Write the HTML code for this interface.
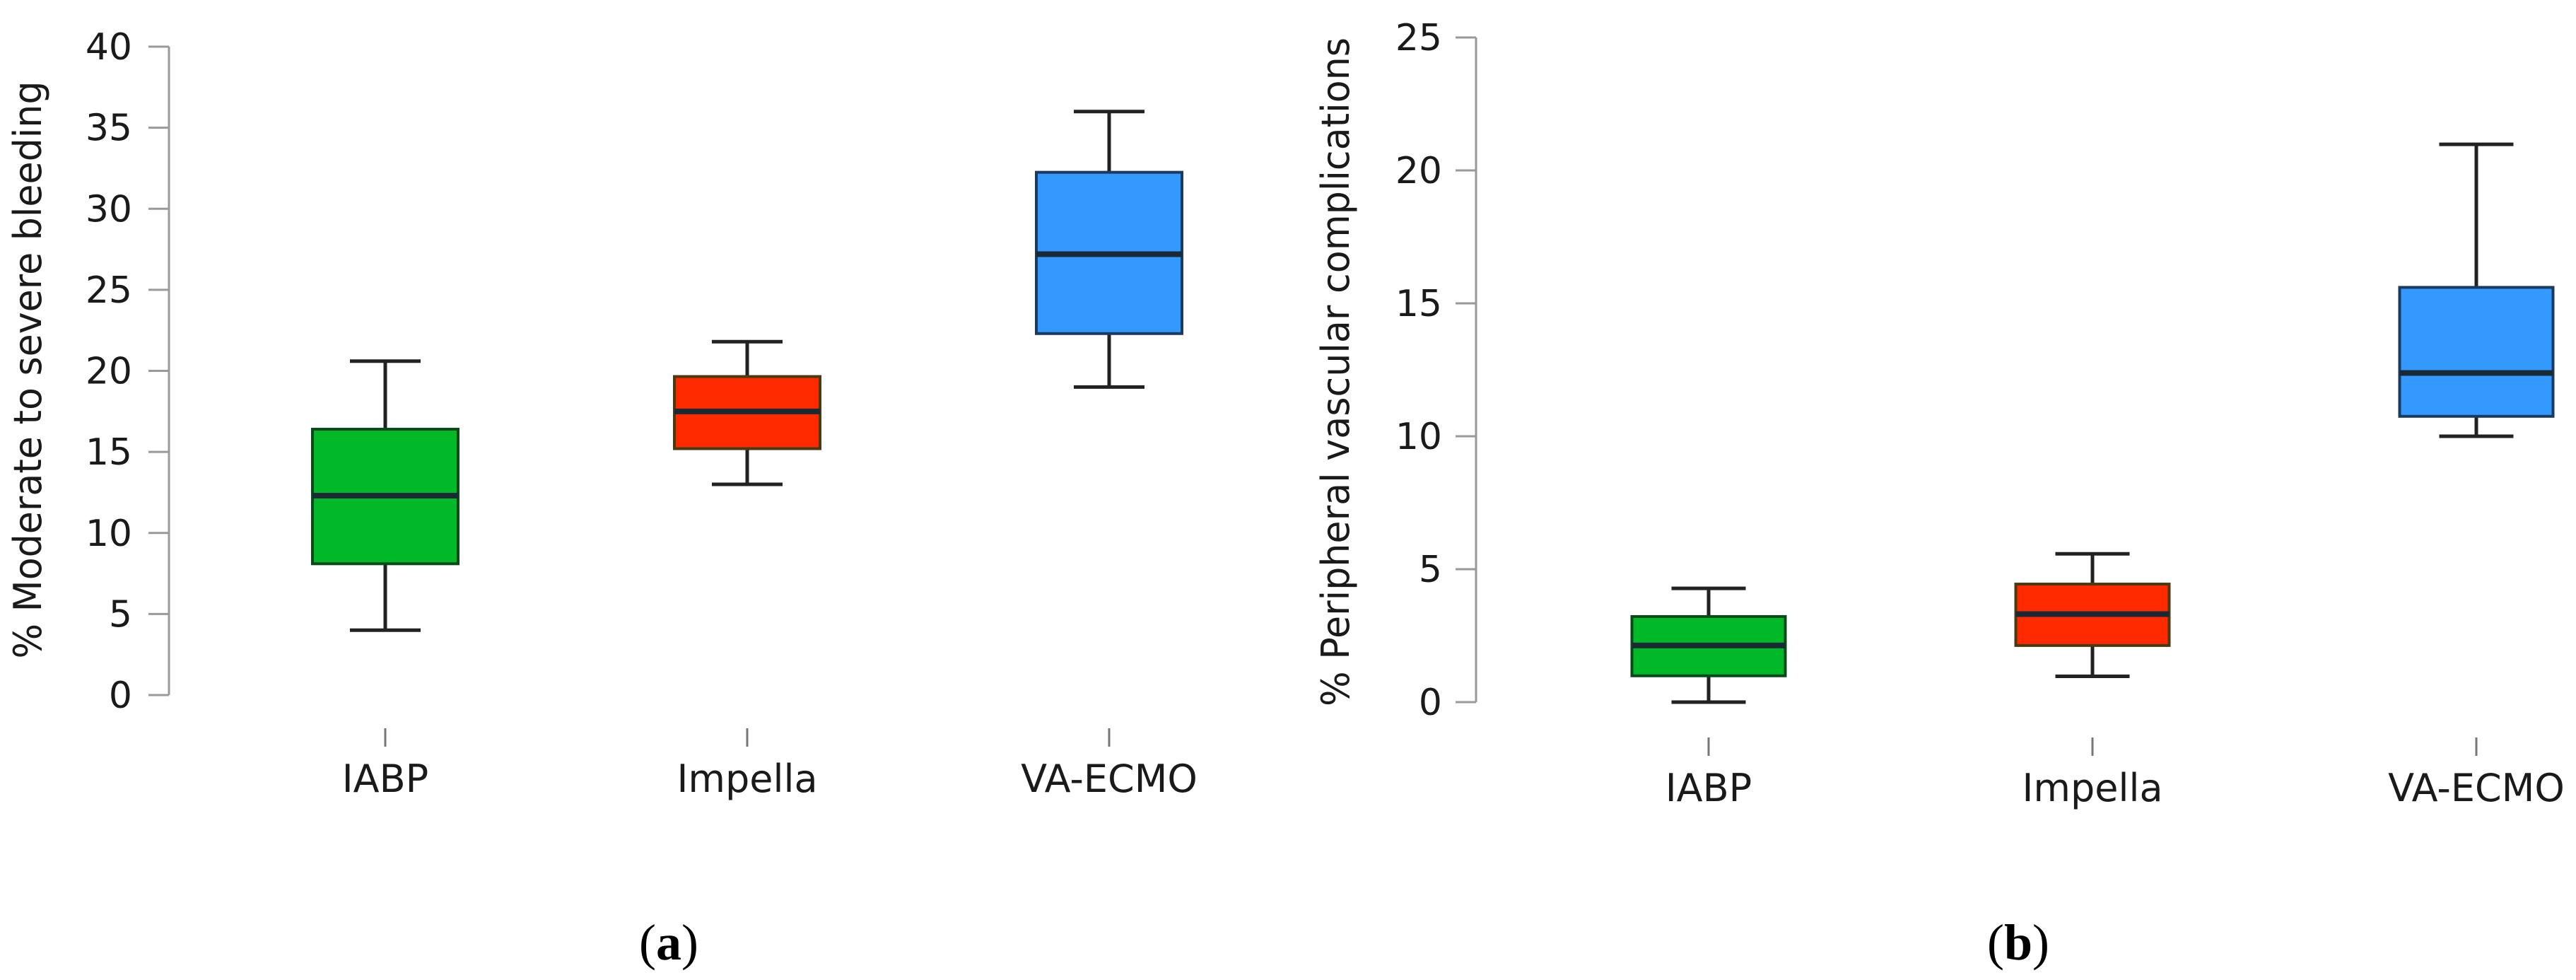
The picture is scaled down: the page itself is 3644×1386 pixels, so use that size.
<!DOCTYPE html>
<html><head><meta charset="utf-8"><style>
html,body{margin:0;padding:0;background:#fff;width:3644px;height:1386px;overflow:hidden}
svg{display:block}
text{font-family:"DejaVu Sans","Liberation Sans",sans-serif;fill:#1a1a1a}
</style></head><body>
<svg id="fig" width="3644" height="1386" viewBox="0 0 3644 1386"></svg>
<script>
const categories = ["IABP","Impella","VA-ECMO"];
// panel a: min, q1, median, q3, max
const aMin = [4.0, 13.0, 19.0];
const aQ1 = [8.1, 15.2, 22.3];
const aMed = [12.3, 17.5, 27.2];
const aQ3 = [16.4, 19.65, 32.25];
const aMax = [20.6, 21.8, 36.0];
const aTicks = [0,5,10,15,20,25,30,35,40];
// panel b
const bMin = [0, 0.97, 10.0];
const bQ1 = [0.99, 2.13, 10.75];
const bMed = [2.13, 3.31, 12.38];
const bQ3 = [3.22, 4.44, 15.6];
const bMax = [4.28, 5.58, 20.98];
const bTicks = [0,5,10,15,20,25];
const fills = ["#00b828","#ff2a00","#3399ff"];
const borders = ["#0a4a1a","#4a3a10","#1a3a60"];

const NS = "http://www.w3.org/2000/svg";
const svg = document.getElementById("fig");
function mk(tag, attrs, parent){const e=document.createElementNS(NS,tag);for(const k in attrs)e.setAttribute(k,attrs[k]);(parent||svg).appendChild(e);return e;}

function panel(cfg){
  const g = mk("g",{});
  
  
  const y = v => cfg.y0 + (v - cfg.vmin)/(cfg.vmax - cfg.vmin)*(cfg.y1 - cfg.y0);
  const x = i => cfg.x0 + i*cfg.dx;
  // axis
  const ax = mk("line",{x1:cfg.axisX,x2:cfg.axisX,y1:y(cfg.vmax),y2:y(cfg.vmin),stroke:"#999",'stroke-width':3},g);
  
  
  cfg.ticks.forEach(t=>{
    const tl = mk("line",{x1:cfg.axisX-29,x2:cfg.axisX,y1:y(t),y2:y(t),stroke:"#999",'stroke-width':3},g);
    
    
    const tx = mk("text",{x:cfg.labelRight,y:y(t)+18,'text-anchor':'end','font-size':52},g);
    tx.textContent = t;
    
    
  });
  const yt = mk("text",{x:0,y:0,'text-anchor':'middle','font-size':54,textLength:cfg.titleLen,lengthAdjust:'spacingAndGlyphs',
    transform:`translate(${cfg.titleX},${cfg.titleY}) rotate(-90)`},g);
  yt.textContent = cfg.title;
  
  
  categories.forEach((c,i)=>{
    const cx = x(i);
    const ct = mk("line",{x1:cx,x2:cx,y1:cfg.catTickY,y2:cfg.catTickY+26,stroke:"#777",'stroke-width':3},g);
    
    
    const cl = mk("text",{x:cx,y:cfg.catLabelY,'text-anchor':'middle','font-size':54},g);
    cl.textContent = c;
    
    
    const bg = mk("g",{},g);
    
    
    const hw = cfg.boxW/2, cw = cfg.capW/2;
    const w1 = mk("line",{x1:cx,x2:cx,y1:y(cfg.max[i]),y2:y(cfg.q3[i]),stroke:"#222",'stroke-width':5},bg);
    
    
    const w2 = mk("line",{x1:cx,x2:cx,y1:y(cfg.q1[i]),y2:y(cfg.min[i]),stroke:"#222",'stroke-width':5},bg);
    
    
    const c1 = mk("line",{x1:cx-cw,x2:cx+cw,y1:y(cfg.max[i]),y2:y(cfg.max[i]),stroke:"#222",'stroke-width':5},bg);
    
    
    const c2 = mk("line",{x1:cx-cw,x2:cx+cw,y1:y(cfg.min[i]),y2:y(cfg.min[i]),stroke:"#222",'stroke-width':5},bg);
    
    
    const r = mk("rect",{x:cx-hw,y:y(cfg.q3[i]),width:cfg.boxW,height:y(cfg.q1[i])-y(cfg.q3[i]),fill:fills[i],stroke:borders[i],'stroke-width':4},bg);
    
    
    const m = mk("line",{x1:cx-hw,x2:cx+hw,y1:y(cfg.med[i]),y2:y(cfg.med[i]),stroke:"#1a2a35",'stroke-width':8},bg);
    
    
  });
  const pl = mk("text",{x:cfg.capX,y:1357,'text-anchor':'middle','font-size':72,style:'font-family:"Liberation Serif",serif;fill:#000'},g);
  pl.innerHTML = '(<tspan font-weight="bold">'+cfg.cap+'</tspan>)';
  
  
}

panel({name:'panel-a-bleeding',vmin:0,vmax:40,y0:983,y1:66,axisX:239,labelRight:187,ticks:aTicks,
  x0:545,dx:512,boxW:206,capW:100,catTickY:1030,catLabelY:1120,
  min:aMin,q1:aQ1,med:aMed,q3:aQ3,max:aMax,
  title:'% Moderate to severe bleeding',titleX:58,titleY:523,titleLen:817,capX:946,cap:'a'});
panel({name:'panel-b-vascular',vmin:0,vmax:25,y0:993,y1:53,axisX:2088,labelRight:2040,ticks:bTicks,
  x0:2417,dx:543,boxW:217,capW:105,catTickY:1043,catLabelY:1133,
  min:bMin,q1:bQ1,med:bMed,q3:bQ3,max:bMax,
  title:'% Peripheral vascular complications',titleX:1908,titleY:526,titleLen:946,capX:2855,cap:'b'});
</script>
</body></html>
